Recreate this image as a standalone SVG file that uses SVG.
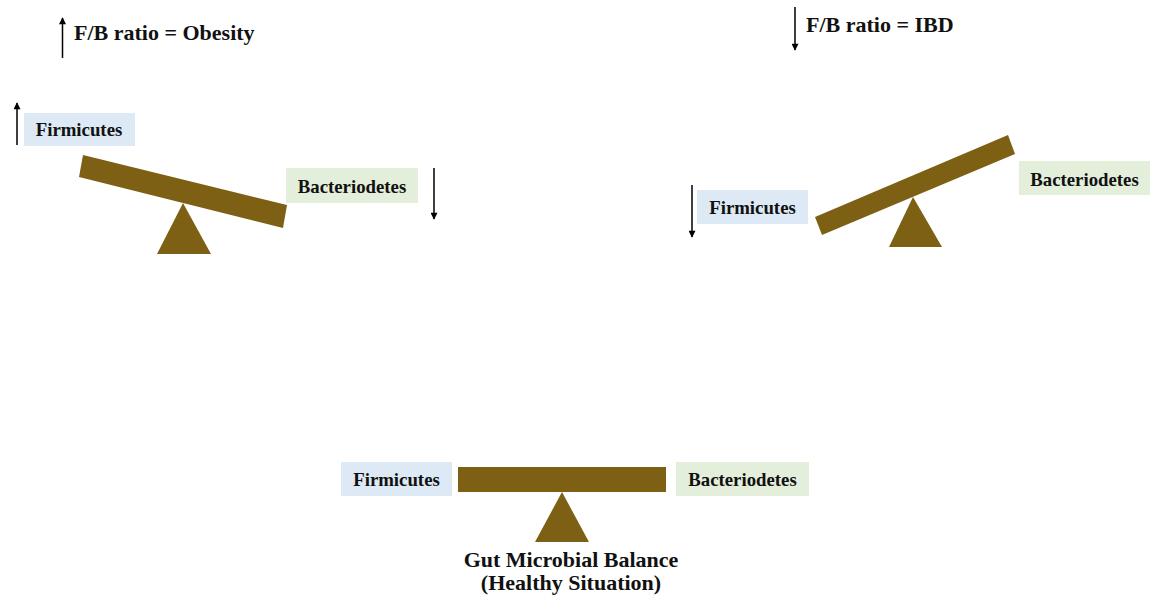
<svg xmlns="http://www.w3.org/2000/svg" width="1162" height="596" viewBox="0 0 1162 596">
<style>
.t{font-family:"Liberation Serif","Times New Roman",serif;font-weight:bold;fill:#111;}
.title{font-size:22px;}
.lbl{font-size:18.8px;}
.wood{fill:#7E6014;}
.fb{fill:#DDEAF6;}
.bb{fill:#E3EFDB;}
.arr{stroke:#000;stroke-width:1.5;fill:none;marker-end:url(#ah);}
</style>
<defs>
<marker id="ah" viewBox="0 0 10 10" refX="9" refY="5" markerWidth="8" markerHeight="7" markerUnits="userSpaceOnUse" orient="auto">
<path d="M0,0 L10,5 L0,10 z" fill="#000"/>
</marker>
</defs>
<rect width="1162" height="596" fill="#fff"/>
<g id="obesity-title">
<text class="t title" x="74" y="40">F/B ratio = Obesity</text>
</g>
<g id="ibd-title">
<text class="t title" x="806" y="32">F/B ratio = IBD</text>
</g>
<g id="seesaw-left">
<polygon class="wood" points="83,155 287,205 283,228 79,177"/>
<polygon class="wood" points="183,203 157,254 211,254"/>
</g>
<g id="firmicutes-left">
<rect class="fb" x="24" y="113" width="111" height="33"/>
<text class="t lbl" x="79" y="136" text-anchor="middle">Firmicutes</text>
</g>
<g id="bacteriodetes-left">
<rect class="bb" x="286" y="168" width="132" height="35"/>
<text class="t lbl" x="352" y="193" text-anchor="middle">Bacteriodetes</text>
</g>
<g id="seesaw-right">
<polygon class="wood" points="815,217 1008,135 1015,154 822,235"/>
<polygon class="wood" points="913,197 889,247 942,247"/>
</g>
<g id="firmicutes-right">
<rect class="fb" x="697" y="190" width="111" height="34"/>
<text class="t lbl" x="752.5" y="214" text-anchor="middle">Firmicutes</text>
</g>
<g id="bacteriodetes-right">
<rect class="bb" x="1019" y="161" width="131" height="34"/>
<text class="t lbl" x="1084.5" y="186" text-anchor="middle">Bacteriodetes</text>
</g>
<g id="seesaw-bottom">
<rect class="wood" x="458" y="467" width="208" height="25"/>
<polygon class="wood" points="562,492 535,542 589,542"/>
</g>
<g id="firmicutes-bottom">
<rect class="fb" x="341" y="462" width="111" height="34"/>
<text class="t lbl" x="396.5" y="486" text-anchor="middle">Firmicutes</text>
</g>
<g id="bacteriodetes-bottom">
<rect class="bb" x="676" y="462" width="133" height="34"/>
<text class="t lbl" x="742.5" y="486" text-anchor="middle">Bacteriodetes</text>
</g>
<g id="balance-caption">
<text class="t title" x="571" y="567" text-anchor="middle">Gut Microbial Balance</text>
<text class="t title" x="571" y="590" text-anchor="middle">(Healthy Situation)</text>
</g>
<g id="connectors">
<line class="arr" x1="62.5" y1="58" x2="62.5" y2="18"/>
<line class="arr" x1="17" y1="145" x2="17" y2="103"/>
<line class="arr" x1="434" y1="168" x2="434" y2="219"/>
<line class="arr" x1="795" y1="7" x2="795" y2="50"/>
<line class="arr" x1="692" y1="185" x2="692" y2="237"/>
</g>
</svg>
